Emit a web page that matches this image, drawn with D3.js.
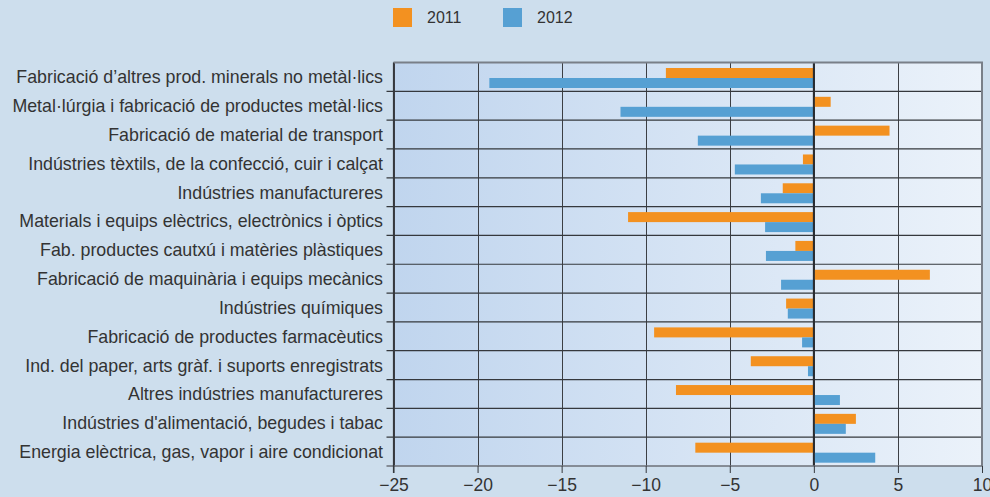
<!DOCTYPE html>
<html><head><meta charset="utf-8">
<script src="https://cdn.jsdelivr.net/npm/d3@7"></script>
<style>
html,body{margin:0;padding:0;background:#cddeed;}
svg{display:block;}
text{font-family:"Liberation Sans",Arial,Helvetica,sans-serif;fill:#333;}
</style></head>
<body>
<svg id="chart" width="990" height="497"></svg>
<script>
const categories = [
  "Fabricació d’altres prod. minerals no metàl·lics",
  "Metal·lúrgia i fabricació de productes metàl·lics",
  "Fabricació de material de transport",
  "Indústries tèxtils, de la confecció, cuir i calçat",
  "Indústries manufactureres",
  "Materials i equips elèctrics, electrònics i òptics",
  "Fab. productes cautxú i matèries plàstiques",
  "Fabricació de maquinària i equips mecànics",
  "Indústries químiques",
  "Fabricació de productes farmacèutics",
  "Ind. del paper, arts gràf. i suports enregistrats",
  "Altres indústries manufactureres",
  "Indústries d'alimentació, begudes i tabac",
  "Energia elèctrica, gas, vapor i aire condicionat"
];
const series = ["2011", "2012"];
const values2011 = [-8.8, 1.0, 4.5, -0.65, -1.85, -11.05, -1.1, 6.9, -1.65, -9.5, -3.75, -8.2, 2.5, -7.05];
const values2012 = [-19.3, -11.5, -6.9, -4.7, -3.15, -2.9, -2.85, -1.95, -1.55, -0.7, -0.35, 1.55, 1.9, 3.65];
const xTicks = [-25, -20, -15, -10, -5, 0, 5, 10];
const colors = {"2011": "#f39120", "2012": "#56a0d3"};

const svg = d3.select("#chart");
const L = 393.5, R = 982, T = 62.5, B = 466;

const x = d3.scaleLinear().domain([-25, 10]).range([L, R]);
const y = d3.scaleBand().domain(categories).range([T, B]).paddingInner(0).paddingOuter(0);
const yInner = d3.scaleBand().domain(series).range([5.5, 25.5]);

const defs = svg.append("defs");
const grad = defs.append("linearGradient").attr("id", "bg").attr("x1", "0").attr("x2", "1").attr("y1", "0").attr("y2", "0");
grad.append("stop").attr("offset", "0").attr("stop-color", "#c0d5ee");
grad.append("stop").attr("offset", "1").attr("stop-color", "#ebf2fa");

svg.append("rect").attr("x", L).attr("y", T).attr("width", R - L).attr("height", B - T).attr("fill", "url(#bg)");

// vertical gridlines
svg.append("g").selectAll("line").data(xTicks).join("line")
  .attr("x1", d => Math.round(x(d)) + 0.5).attr("x2", d => Math.round(x(d)) + 0.5)
  .attr("y1", T).attr("y2", B)
  .attr("stroke", "#3c3f44").attr("stroke-width", 1);

// horizontal row lines
const bounds = categories.slice(1).map(c => y(c));
svg.append("g").selectAll("line").data(bounds).join("line")
  .attr("x1", L - 7).attr("x2", R)
  .attr("y1", d => d).attr("y2", d => d)
  .attr("stroke", "#35383d").attr("stroke-width", 1.2);

// bars
const rows = categories.map((c, i) => ({cat: c, vals: [{s: "2011", v: values2011[i]}, {s: "2012", v: values2012[i]}]}));
const g = svg.append("g").selectAll("g").data(rows).join("g")
  .attr("transform", d => `translate(0,${y(d.cat)})`);
g.selectAll("rect").data(d => d.vals).join("rect")
  .attr("x", d => x(Math.min(0, d.v)))
  .attr("width", d => Math.abs(x(d.v) - x(0)))
  .attr("y", d => yInner(d.s))
  .attr("height", yInner.bandwidth())
  .attr("fill", d => colors[d.s]);

// zero line
svg.append("line").attr("x1", x(0)).attr("x2", x(0)).attr("y1", T).attr("y2", B)
  .attr("stroke", "#2a2c30").attr("stroke-width", 2);

// borders
svg.append("line").attr("x1", L).attr("x2", R + 1).attr("y1", T).attr("y2", T)
  .attr("stroke", "#797f88").attr("stroke-width", 2);
svg.append("line").attr("x1", R).attr("x2", R).attr("y1", T).attr("y2", B)
  .attr("stroke", "#797f88").attr("stroke-width", 2);
svg.append("line").attr("x1", L - 7).attr("x2", R).attr("y1", B).attr("y2", B)
  .attr("stroke", "#6c7178").attr("stroke-width", 1.5);
svg.append("line").attr("x1", L).attr("x2", L).attr("y1", T).attr("y2", B + 7)
  .attr("stroke", "#35383d").attr("stroke-width", 1.2);

// x axis
const xAxis = svg.append("g").attr("transform", `translate(0,${B})`)
  .call(d3.axisBottom(x).tickValues(xTicks).tickSize(7).tickPadding(6));
xAxis.select(".domain").remove();
xAxis.selectAll(".tick line").attr("stroke", "#35383d");
xAxis.selectAll(".tick text").attr("font-size", "17.5px").attr("fill", "#333")
  .attr("font-family", "Liberation Sans, Arial, sans-serif");

// category labels
svg.append("g").selectAll("text").data(categories).join("text")
  .attr("x", 383).attr("y", d => y(d) + y.bandwidth() / 2)
  .attr("dy", "0.36em").attr("text-anchor", "end")
  .attr("font-size", "17.8px").text(d => d);

// legend
const legend = svg.append("g");
const legX = d3.scaleOrdinal().domain(series).range([393, 503]);
series.forEach(s => {
  legend.append("rect").attr("x", legX(s)).attr("y", 8).attr("width", 19).attr("height", 19).attr("fill", colors[s]);
  legend.append("text").attr("x", legX(s) + 34).attr("y", 17.5).attr("dy", "0.36em")
    .attr("font-size", "16px").text(s);
});
</script>
</body></html>
